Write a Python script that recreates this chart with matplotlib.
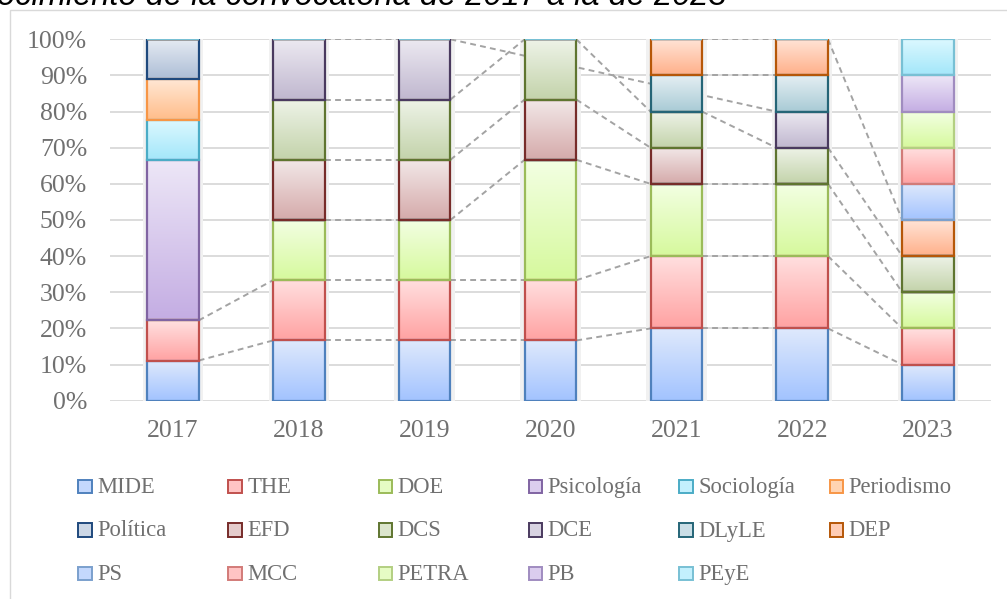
import numpy as np
import matplotlib
matplotlib.use("Agg")
import matplotlib.pyplot as plt
from matplotlib.patches import Rectangle
from matplotlib.colors import to_rgb
from matplotlib.ticker import FuncFormatter

# ---------------- data ----------------
years = ["2017", "2018", "2019", "2020", "2021", "2022", "2023"]
series = ["MIDE", "THE", "DOE", "Psicología", "Sociología", "Periodismo",
          "Política", "EFD", "DCS", "DCE", "DLyLE", "DEP",
          "PS", "MCC", "PETRA", "PB", "PEyE"]
# counts per year (0 = not present)
MIDE       = [1, 1, 1, 1, 2, 2, 1]
THE        = [1, 1, 1, 1, 2, 2, 1]
DOE        = [0, 1, 1, 2, 2, 2, 1]
Psicologia = [4, 0, 0, 0, 0, 0, 0]
Sociologia = [1, 0, 0, 0, 0, 0, 0]
Periodismo = [1, 0, 0, 0, 0, 0, 0]
Politica   = [1, 0, 0, 0, 0, 0, 0]
EFD        = [0, 1, 1, 1, 1, 0, 0]
DCS        = [0, 1, 1, 1, 1, 1, 1]
DCE        = [0, 1, 1, 0, 0, 1, 0]
DLyLE      = [0, 0, 0, 0, 1, 1, 0]
DEP        = [0, 0, 0, 0, 1, 1, 1]
PS         = [0, 0, 0, 0, 0, 0, 1]
MCC        = [0, 0, 0, 0, 0, 0, 1]
PETRA      = [0, 0, 0, 0, 0, 0, 1]
PB         = [0, 0, 0, 0, 0, 0, 1]
PEyE       = [0, 0, 0, 0, 0, 0, 1]
counts = [MIDE, THE, DOE, Psicologia, Sociologia, Periodismo, Politica, EFD,
          DCS, DCE, DLyLE, DEP, PS, MCC, PETRA, PB, PEyE]

title_text = "ocimiento de la convocatoria de 2017 a la de 2023"

# ---------------- styles ----------------
# (top colour, bottom colour, edge colour)
styles = [
    ("#dfe9fc", "#a2c3ff", "#4f81bd"),
    ("#ffe0e0", "#ffa2a2", "#c0504d"),
    ("#f3ffe3", "#d6f99d", "#9bbb59"),
    ("#ede7f7", "#c4ade3", "#8064a2"),
    ("#ddf8ff", "#a3e7fa", "#4bacc6"),
    ("#ffe7d4", "#ffbd8a", "#f79646"),
    ("#e6ebf3", "#adbed6", "#1f497d"),
    ("#f2e8e8", "#d5aaaa", "#772c2a"),
    ("#eef3e8", "#c3d3aa", "#5f7530"),
    ("#ece9f1", "#c0b7cf", "#4a3a5f"),
    ("#e5eff3", "#a8cad5", "#256577"),
    ("#ffe5d8", "#ffb08a", "#b65708"),
    ("#dfe9fc", "#a2c3ff", "#7ba0cd"),
    ("#ffe0e0", "#ffa2a2", "#d27b78"),
    ("#f3ffe3", "#d6f99d", "#b3cf82"),
    ("#ede7f7", "#c4ade3", "#a08cc0"),
    ("#ddf8ff", "#a3e7fa", "#78c0d4"),
]

W, H = 1007, 599
fig = plt.figure(figsize=(W / 100, H / 100), dpi=100)
fig.patch.set_facecolor("white")

# chart-area border (cropped at right/bottom)
fig.patches.append(Rectangle((9.5 / W, -0.1), 1.2, 1 - 9.5 / H + 0.1,
                             transform=fig.transFigure, fill=False,
                             edgecolor="#d9d9d9", linewidth=1.0))

# title (cropped at top, as in the reference)
fig.text(-3 / W, 1 - 5 / H, title_text, fontsize=23.5, style="italic",
         family="Liberation Sans", color="black", ha="left", va="baseline")

ax = fig.add_axes([110 / W, 1 - 400.7 / H, 881 / W, (400.7 - 39.3) / H])
x = np.arange(len(years))
bw = 0.41
totals = np.sum(np.array(counts, dtype=float), axis=0)

ax.set_ylim(0, 100)
ax.set_xlim(-0.5, len(years) - 0.5)
ax.set_yticks(np.arange(0, 101, 10))
ax.yaxis.grid(True, color="#d9d9d9", linewidth=1.3, zorder=0)
ax.set_axisbelow(True)
for s in ax.spines.values():
    s.set_visible(False)

# bar shadow
ax.bar(x, [100] * len(years), width=bw + 0.07, color="#f1f1f1", zorder=1,
       linewidth=0)

bottoms = np.zeros(len(years))
tops_all = []
for i, (name, cnt) in enumerate(zip(series, counts)):
    pct = np.array(cnt, dtype=float) / totals * 100
    top_c, bot_c, edge_c = styles[i]
    bars = ax.bar(x, pct, bottom=bottoms, width=bw, facecolor="none",
                  edgecolor=edge_c, linewidth=1.6, zorder=3)
    grad = np.linspace(np.array(to_rgb(top_c)), np.array(to_rgb(bot_c)), 64)
    grad = grad[:, None, :]
    for p in bars:
        if p.get_height() <= 0:
            continue
        x0, y0 = p.get_x(), p.get_y()
        ax.imshow(grad, extent=[x0, x0 + p.get_width(), y0, y0 + p.get_height()],
                  origin="upper", aspect="auto", interpolation="bilinear",
                  zorder=2)
    bottoms = bottoms + pct
    tops_all.append((cnt, bottoms.copy()))

# series lines: connect consecutive occurrences of each series
for cnt, tops in tops_all:
    idx = [k for k in range(len(years)) if cnt[k] > 0]
    for a, b in zip(idx[:-1], idx[1:]):
        ax.plot([x[a] + bw / 2, x[b] - bw / 2], [tops[a], tops[b]],
                color="#a3a3a3", linewidth=1.4, dashes=(3.0, 2.2), zorder=1.5)

ax.set_xlim(-0.5, len(years) - 0.5)
ax.set_ylim(0, 100)
ax.set_xticks(x)
ax.set_xticklabels(years)
ax.yaxis.set_major_formatter(FuncFormatter(lambda v, p: f"{v:.0f}%"))
ax.tick_params(axis="both", length=0, labelsize=18.5, labelcolor="#707070")
ax.tick_params(axis="y", pad=16.5)
ax.tick_params(axis="x", pad=14)
for lab in ax.get_xticklabels() + ax.get_yticklabels():
    lab.set_family("Liberation Serif")

# legend (Excel-style grid, equal column widths)
col0, colstep = 78, 150.3
row_base = [493, 536.5, 580]
for i, name in enumerate(series):
    r, c = divmod(i, 6)
    mx = col0 + c * colstep
    base = row_base[r]
    top_c, bot_c, edge_c = styles[i]
    mid = tuple((np.array(to_rgb(top_c)) * 0.55 + np.array(to_rgb(bot_c)) * 0.45))
    fig.patches.append(Rectangle((mx / W, 1 - (base) / H), 13.5 / W, 13.5 / H,
                                 transform=fig.transFigure, facecolor=mid,
                                 edgecolor=edge_c, linewidth=1.4))
    fig.text((mx + 19) / W, 1 - base / H, name, fontsize=16.3,
             family="Liberation Serif", color="#707070", ha="left",
             va="baseline")

fig.savefig("out.png", dpi=100, facecolor="white")
